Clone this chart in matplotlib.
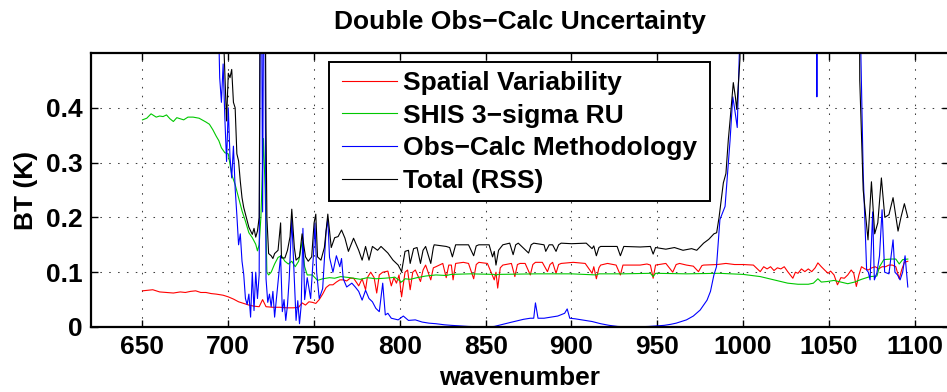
import matplotlib
matplotlib.use("Agg")
import matplotlib.pyplot as plt
from matplotlib.patches import Rectangle
import numpy as np

# ---------------- data ----------------
OFF = 2.0  # values above the plotted range (clipped at the top)

red_wn = [650, 653, 656, 660, 664, 668, 672, 675, 678, 681, 684, 687, 690, 693, 697, 700,
          703, 706, 709, 712, 715, 718, 720, 722, 726, 730, 734, 738, 741, 743, 745, 747,
          749, 751, 753, 755, 757, 759, 761, 763, 765, 767, 769, 771, 773, 775, 776, 778,
          780, 781, 783, 785, 786.5, 788, 790, 793, 795, 796.5, 798, 799.5, 801, 803, 804.5,
          806, 807.5, 809, 812, 813.5, 815, 818, 819.5, 821, 825, 827, 828.5, 830, 831,
          832.5, 837, 840, 843, 844.5, 846, 851, 855, 856, 857, 858.5, 860, 865, 867, 868.5,
          870, 873, 876, 877.5, 879, 883, 886, 887.5, 889, 891, 892.5, 894, 901, 908, 912,
          913, 914.5, 916, 917, 921, 926, 928.5, 930, 936, 940, 944, 946, 947.6, 949, 955,
          959, 961, 963, 967, 971, 974, 976, 977, 985, 990, 995, 1000, 1006, 1010, 1012,
          1014, 1016, 1018, 1020, 1022, 1024, 1026, 1029, 1030.5, 1032, 1034, 1036, 1038,
          1040, 1042, 1043.6, 1045.6, 1047.5, 1049.5, 1051, 1053, 1055, 1057, 1059, 1061,
          1063, 1064.5, 1066, 1067.5, 1069, 1071, 1073, 1075, 1077, 1079, 1081, 1083, 1085,
          1087, 1089, 1091, 1092.5, 1094, 1096]
red_val = [0.066, 0.067, 0.068, 0.064, 0.063, 0.062, 0.064, 0.063, 0.065, 0.066, 0.063, 0.063,
           0.061, 0.060, 0.058, 0.055, 0.051, 0.046, 0.043, 0.040, 0.038, 0.037, 0.050, 0.037,
           0.036, 0.036, 0.035, 0.035, 0.036, 0.044, 0.040, 0.046, 0.045, 0.043, 0.050, 0.060,
           0.072, 0.077, 0.077, 0.082, 0.086, 0.086, 0.084, 0.089, 0.089, 0.080, 0.075, 0.088,
           0.068, 0.090, 0.100, 0.090, 0.062, 0.095, 0.100, 0.102, 0.075, 0.090, 0.080, 0.095,
           0.055, 0.100, 0.104, 0.068, 0.100, 0.104, 0.083, 0.104, 0.113, 0.086, 0.108, 0.110,
           0.116, 0.090, 0.113, 0.113, 0.086, 0.116, 0.118, 0.116, 0.088, 0.114, 0.118, 0.116,
           0.086, 0.100, 0.071, 0.108, 0.113, 0.116, 0.092, 0.114, 0.116, 0.116, 0.095, 0.114,
           0.118, 0.118, 0.101, 0.114, 0.118, 0.098, 0.114, 0.116, 0.118, 0.116, 0.098, 0.110,
           0.088, 0.108, 0.113, 0.116, 0.113, 0.095, 0.113, 0.113, 0.113, 0.115, 0.113, 0.089,
           0.113, 0.116, 0.100, 0.114, 0.116, 0.113, 0.111, 0.101, 0.112, 0.113, 0.114, 0.116,
           0.114, 0.114, 0.113, 0.101, 0.110, 0.106, 0.110, 0.103, 0.108, 0.106, 0.110, 0.101,
           0.089, 0.100, 0.098, 0.106, 0.101, 0.106, 0.101, 0.108, 0.117, 0.110, 0.104, 0.098,
           0.102, 0.095, 0.077, 0.090, 0.089, 0.095, 0.104, 0.098, 0.074, 0.095, 0.110, 0.106,
           0.104, 0.108, 0.110, 0.106, 0.110, 0.110, 0.113, 0.113, 0.110, 0.088, 0.105, 0.118,
           0.120]

green_wn = [650, 652.5, 655, 658, 660, 662, 664, 666, 668, 670, 672, 674, 676.5, 679.5, 683,
            687, 689, 691, 693, 694.5, 696, 698, 700, 702, 704, 706, 708, 710, 712, 714, 716,
            717, 718, 719, 720.5, 721.5, 722.5, 723.5, 725, 727, 729, 731, 733, 735, 737, 739,
            741, 743, 744.5, 746, 749, 752, 755, 759, 762, 765.5, 771, 777, 781, 786, 791,
            795, 797, 801, 803, 806, 810, 815, 821, 827, 830, 841, 855, 856, 857, 880, 900,
            914.5, 916, 930, 946, 947.6, 949, 967, 986, 1000, 1010, 1018, 1026, 1032, 1038,
            1041, 1043.6, 1045.6, 1049, 1053, 1057, 1061, 1065, 1069, 1074, 1078, 1079.5,
            1082, 1086, 1089, 1091, 1093, 1096]
green_val = [0.378, 0.381, 0.389, 0.383, 0.385, 0.384, 0.387, 0.380, 0.375, 0.382, 0.380,
             0.378, 0.383, 0.383, 0.381, 0.374, 0.370, 0.360, 0.348, 0.340, 0.327, 0.318,
             0.316, 0.278, 0.260, 0.236, 0.212, 0.193, 0.172, 0.163, 0.151, 0.139, 0.150,
             0.200, 0.344, 0.250, 0.100, 0.095, 0.100, 0.115, 0.127, 0.130, 0.120, 0.115,
             0.120, 0.110, 0.120, 0.155, 0.110, 0.095, 0.095, 0.085, 0.088, 0.090, 0.089,
             0.092, 0.090, 0.087, 0.090, 0.088, 0.089, 0.090, 0.091, 0.082, 0.088, 0.087,
             0.090, 0.093, 0.095, 0.094, 0.096, 0.097, 0.096, 0.094, 0.096, 0.097, 0.097,
             0.095, 0.097, 0.097, 0.098, 0.092, 0.098, 0.097, 0.098, 0.096, 0.092, 0.086,
             0.080, 0.078, 0.078, 0.080, 0.088, 0.082, 0.083, 0.085, 0.082, 0.079, 0.082,
             0.087, 0.092, 0.093, 0.110, 0.123, 0.124, 0.124, 0.115, 0.123, 0.124]

blue_wn = [650, 692, 694, 695, 696, 697, 698, 699, 700, 701, 702, 703, 704, 705, 706, 707,
           708, 709, 710, 711, 712, 713, 714, 715, 716, 717, 718, 719, 720, 721, 722, 723,
           724, 725, 726, 727, 728, 729, 730.5, 731.5, 732.5, 733.5, 734.5, 735.5, 737,
           738.5, 739.5, 740.5, 741.5, 742.5, 743.5, 744.5, 746, 748, 749.6, 750.5, 751.5,
           753, 755, 757, 758, 759, 761, 763, 765, 766, 767, 769, 772, 774, 776, 778, 780,
           782, 784, 786, 788, 790, 791.5, 793, 795, 799, 802, 805, 809, 813, 817, 821, 826,
           830, 840, 850, 855, 860, 864, 868, 872, 876, 878, 879, 880.5, 884, 888, 892, 896,
           897.5, 899, 902, 906, 912, 917, 922, 927, 935, 945, 950, 954, 958, 961, 964, 967,
           971, 975, 979, 981, 983, 984.5, 986.5, 989.5, 992.4, 994, 995, 996.6, 998, 1000,
           1042, 1043, 1044, 1066, 1068, 1070, 1072, 1073, 1074, 1075.5, 1076.5, 1078,
           1079.5, 1081, 1082.5, 1085, 1087.4, 1088.5, 1090, 1091.5, 1093, 1094.4, 1096]
blue_val = [OFF, OFF, 0.60, 0.455, 0.41, 0.48, 0.381, 0.302, 0.40, 0.31, 0.272, 0.33, 0.253,
            0.204, 0.15, 0.17, 0.12, 0.096, 0.052, 0.041, 0.060, 0.018, 0.10, 0.030, 0.10,
            0.052, 0.095, 0.9, 0.21, 0.9, 0.088, 0.045, 0.060, 0.037, 0.065, 0.018, 0.050,
            0.080, 0.130, 0.028, 0.050, 0.012, 0.040, 0.088, 0.197, 0.088, 0.012, 0.048,
            0.006, 0.040, 0.180, 0.050, 0.090, 0.052, 0.130, 0.190, 0.100, 0.052, 0.070,
            0.175, 0.197, 0.127, 0.100, 0.130, 0.110, 0.125, 0.088, 0.073, 0.080, 0.073,
            0.065, 0.049, 0.067, 0.052, 0.046, 0.034, 0.028, 0.080, 0.022, 0.025, 0.016,
            0.013, 0.020, 0.012, 0.013, 0.009, 0.007, 0.006, 0.004, 0.003, 0.001, 0.000,
            0.001, 0.005, 0.008, 0.011, 0.014, 0.016, 0.016, 0.044, 0.016, 0.016, 0.018,
            0.020, 0.025, 0.033, 0.016, 0.015, 0.013, 0.010, 0.006, 0.003, 0.001, 0.000,
            0.001, 0.002, 0.003, 0.005, 0.007, 0.010, 0.013, 0.020, 0.031, 0.049, 0.065,
            0.095, 0.110, 0.196, 0.22, 0.34, 0.42, 0.40, 0.364, 0.52, OFF, OFF, 0.42, OFF,
            OFF, 0.6, 0.28, 0.104, 0.10, 0.086, 0.21, 0.086, 0.099, 0.13, 0.214, 0.10,
            0.097, 0.159, 0.10, 0.095, 0.086, 0.10, 0.13, 0.073]

black_wn = [650, 696, 697, 699, 700, 701, 702, 703, 704, 705, 706, 707, 708, 709, 710, 712,
            714, 715, 716, 717, 718, 719, 721, 722, 722.5, 723.5, 725, 726, 727, 729, 730.5,
            731, 733, 734.5, 736, 737, 738.5, 739.5, 741.5, 743, 745, 746.6, 748.6, 750, 751,
            752, 754, 756, 758, 760, 762, 764, 766, 768, 770, 773, 776, 778, 780, 782, 784,
            787, 789, 793, 796, 799, 801, 803, 805, 806, 808, 810, 812, 813.5, 815, 818,
            819.5, 820, 827, 829, 830.6, 832.5, 840, 843, 844.5, 846, 852, 854, 855, 856,
            857.5, 860, 864, 866, 867.5, 869, 875, 876.5, 878, 884, 885, 887, 889, 891,
            892.5, 894, 900, 908.6, 912, 913, 914.5, 916, 917, 926.6, 928.5, 930.5, 940, 946,
            947.6, 949, 955, 960, 965, 970, 973, 977, 980, 983, 984.6, 986, 988.5, 990,
            991.4, 992.5, 994.3, 995.5, 996.3, 998.2, 1000, 1066, 1068,
            1070, 1072.8, 1074.8, 1076.7, 1078.5, 1080.6, 1082.6, 1085, 1087.4, 1090.3, 1092,
            1094, 1096]
black_val = [OFF, OFF, 0.55, 0.376, 0.463, 0.455, 0.47, 0.41, 0.40, 0.316, 0.303, 0.266,
             0.236, 0.218, 0.206, 0.182, 0.169, 0.18, 0.164, 0.175, 0.200, 0.9, 0.9, 0.364,
             0.20, 0.134, 0.130, 0.125, 0.134, 0.140, 0.190, 0.126, 0.126, 0.140, 0.165,
             0.215, 0.145, 0.122, 0.128, 0.170, 0.128, 0.120, 0.128, 0.190, 0.206, 0.128,
             0.122, 0.145, 0.206, 0.145, 0.163, 0.165, 0.177, 0.162, 0.138, 0.162, 0.140,
             0.122, 0.147, 0.122, 0.147, 0.140, 0.147, 0.135, 0.122, 0.113, 0.101, 0.138,
             0.140, 0.116, 0.143, 0.145, 0.116, 0.140, 0.147, 0.116, 0.145, 0.150, 0.147,
             0.145, 0.128, 0.150, 0.150, 0.130, 0.148, 0.150, 0.150, 0.128, 0.138, 0.113,
             0.140, 0.150, 0.153, 0.132, 0.150, 0.153, 0.135, 0.150, 0.153, 0.150, 0.138,
             0.150, 0.150, 0.138, 0.150, 0.153, 0.152, 0.153, 0.143, 0.148, 0.130, 0.145,
             0.147, 0.147, 0.130, 0.147, 0.146, 0.147, 0.133, 0.145, 0.142, 0.145, 0.140,
             0.143, 0.140, 0.153, 0.16, 0.17, 0.172, 0.20, 0.263, 0.28, 0.342, 0.38, 0.446,
             0.42, 0.397, 0.49, OFF, OFF, 0.45, 0.25, 0.159, 0.265, 0.17,
             0.19, 0.272, 0.20, 0.205, 0.236, 0.175, 0.20, 0.225, 0.20]

series_labels = ["Spatial Variability", "SHIS 3\u2212sigma RU",
                 "Obs\u2212Calc Methodology", "Total (RSS)"]
series_colors = ["#ff0000", "#00c800", "#0000ff", "#000000"]

title_text = "Double Obs\u2212Calc Uncertainty"
xlabel_text = "wavenumber"
ylabel_text = "BT (K)"
xticks = [650, 700, 750, 800, 850, 900, 950, 1000, 1050, 1100]
yticks = [0, 0.1, 0.2, 0.3, 0.4]
ytick_labels = ["0", "0.1", "0.2", "0.3", "0.4"]

# ---------------- figure ----------------
plt.rcParams['font.family'] = ['Liberation Sans', 'DejaVu Sans']
plt.rcParams['font.weight'] = 'bold'
FS = 19

W, H = 947, 392
fig = plt.figure(figsize=(W / 100, H / 100), dpi=100)
L, R, T, B = 91, 949, 53, 327
ax = fig.add_axes([L / W, 1 - B / H, (R - L) / W, (B - T) / H])

lines = []
for xs, ys, c, lab in zip([red_wn, green_wn, blue_wn, black_wn],
                          [red_val, green_val, blue_val, black_val],
                          series_colors, series_labels):
    ln, = ax.plot(xs, ys, color=c, lw=0.8, label=lab)
    lines.append(ln)

ax.set_xlim(620, 1120)
ax.set_ylim(0, 0.5)
ax.set_xticks(xticks)
ax.set_xticklabels([str(v) for v in xticks])
ax.set_yticks(yticks)
ax.set_yticklabels(ytick_labels)
ax.tick_params(direction='in', length=5, width=1.0, top=True, right=True,
               labelsize=FS)
ax.tick_params(axis='x', pad=6)
ax.tick_params(axis='y', pad=6)
for lab in ax.get_xticklabels() + ax.get_yticklabels():
    lab.set_fontweight('bold')
for s in ax.spines.values():
    s.set_linewidth(1.6)
ax.grid(True, color='0.25', lw=0.75, linestyle=(0, (1.5, 7)))

ax.set_xlabel(xlabel_text, fontsize=FS, fontweight='bold', labelpad=5)
ax.set_ylabel(ylabel_text, fontsize=FS, fontweight='bold', labelpad=6)
fig.text((L + R) / 2 / W, 1 - 29 / H, title_text, ha='center', va='baseline',
         fontsize=FS, fontweight='bold')

# legend: box drawn separately to match the reference frame
lx0, ly0, lx1, ly1 = 329, 62, 710, 201
box = Rectangle((lx0 / W, 1 - ly1 / H), (lx1 - lx0) / W, (ly1 - ly0) / H,
                transform=fig.transFigure, facecolor='white', edgecolor='black',
                lw=1.4, zorder=4, clip_on=False)
ax.add_artist(box)
leg = ax.legend(handles=lines, loc='upper left',
                bbox_to_anchor=(342 / W, 1 - 71 / H), bbox_transform=fig.transFigure,
                borderaxespad=0, borderpad=0, frameon=False,
                handlelength=55 / 26.4, handletextpad=6 / 26.4, labelspacing=0.33,
                prop={'size': FS, 'weight': 'bold'})
leg.set_zorder(5)

fig.savefig("out.png", dpi=100)
